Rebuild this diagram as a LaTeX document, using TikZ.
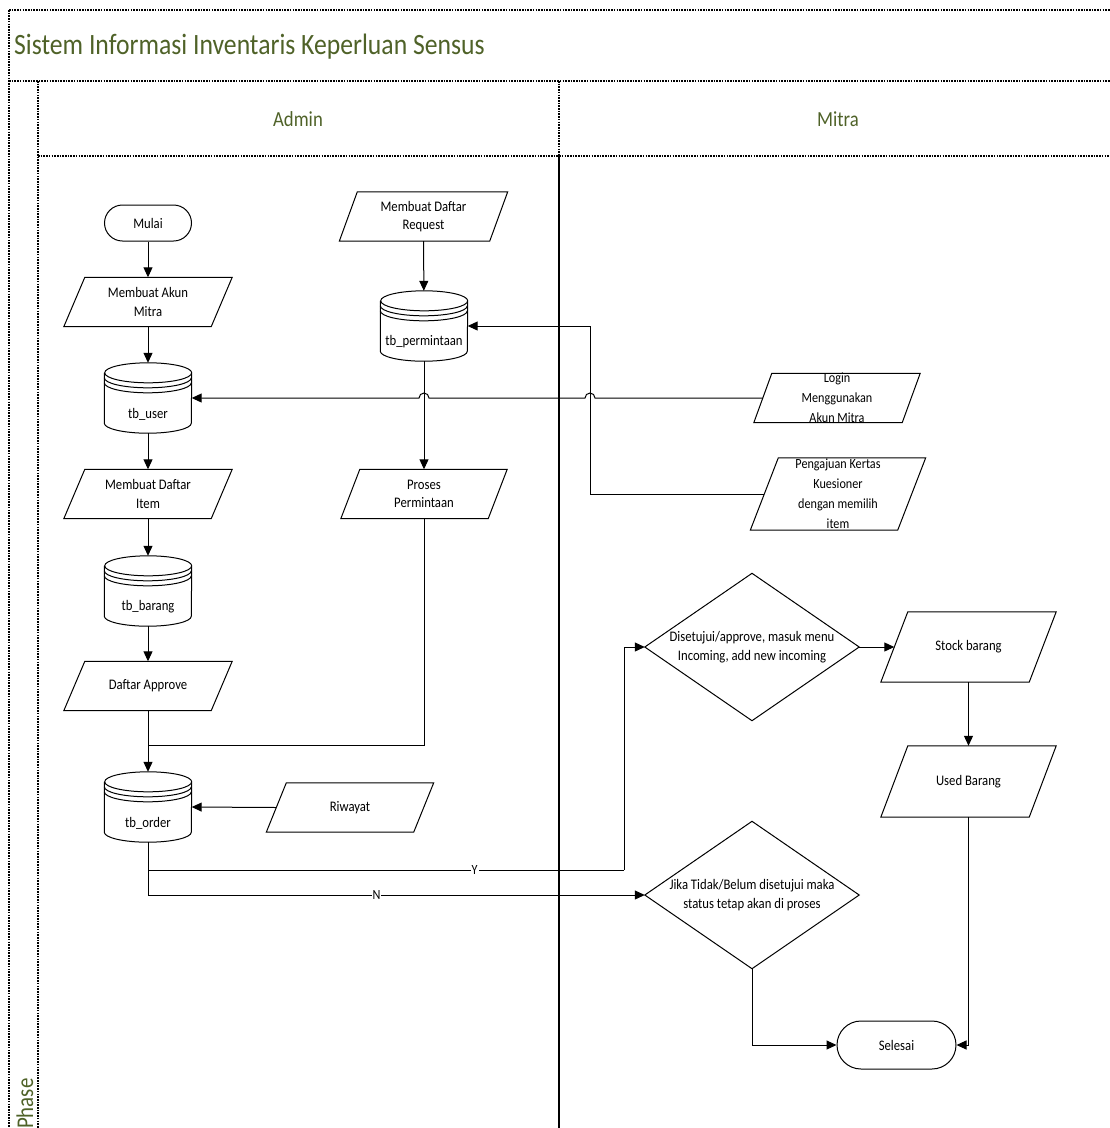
\documentclass[tikz,border=0pt]{standalone}
\usepackage{fontspec}
\setmainfont{Carlito}[FakeStretch=0.87]
\usetikzlibrary{arrows.meta,calc}
\definecolor{lanegreen}{RGB}{79,98,40}

% parallelogram outline around a rectangular node, #2 = half of the slant
\newcommand\pgramdraw[2]{%
  \draw[shapeline] ([xshift=#2]#1.north west) -- ([xshift=#2]#1.north east)
    -- ([xshift=-#2]#1.south east) -- ([xshift=-#2]#1.south west) -- cycle;}
% database cylinder with two extra rings under the lid
\newcommand\dbdraw[1]{%
  \draw[shapeline] ([yshift=-10pt]#1.north west) -- ([yshift=10pt]#1.south west)
    arc[start angle=180,end angle=360,x radius=43.5pt,y radius=10pt]
    -- ([yshift=-10pt]#1.north east)
    arc[start angle=0,end angle=360,x radius=43.5pt,y radius=10pt];
  \draw[shapeline] ([yshift=-15pt]#1.north west)
    arc[start angle=180,end angle=360,x radius=43.5pt,y radius=10pt];
  \draw[shapeline] ([yshift=-20pt]#1.north west)
    arc[start angle=180,end angle=360,x radius=43.5pt,y radius=10pt];}
% decision diamond inside a rectangular node
\newcommand\diadraw[1]{%
  \draw[shapeline] (#1.west) -- (#1.north) -- (#1.east) -- (#1.south) -- cycle;}

\tikzset{
  frameline/.style={line width=1.4pt, dash pattern=on 1.6pt off 1.1pt},
  shapeline/.style={line width=1pt, line join=miter},
  conn/.style={line width=1pt},
  arr/.style={conn, -{Triangle[length=10pt,width=9pt]}},
  txt/.style={font=\fontsize{14.6}{18.5}\selectfont, align=center},
  smalltxt/.style={font=\fontsize{14}{20}\selectfont, align=center},
  io/.style={txt, inner sep=0pt, minimum width=147pt, minimum height=49pt},
  db/.style={inner sep=0pt, minimum width=87pt, minimum height=70pt},
  dblabel/.style={label={[txt, yshift=-16pt]center:#1}},
  dia/.style={txt, inner sep=0pt, minimum width=214pt, minimum height=147pt},
  term/.style={txt, draw, shapeline, inner sep=0pt},
  yn/.style={font=\fontsize{14}{16}\selectfont, fill=white, inner sep=1pt},
  lanetxt/.style={text=lanegreen, font=\fontsize{21.5}{24}\selectfont},
}

\begin{document}
\begin{tikzpicture}[x=1pt, y=-1pt]
\useasboundingbox (0,0) rectangle (1110,1128);

% pool and lane frame
\draw[frameline] (9,10) -- (1112,10);
\draw[frameline] (9,10) -- (9,1130);
\draw[frameline] (9,81) -- (1112,81);
\draw[frameline] (38,81) -- (38,1130);
\draw[frameline] (38,156) -- (1112,156);
\draw[frameline] (559,81) -- (559,156);
\draw[line width=1.4pt] (559,156) -- (559,1130);

\node[text=lanegreen, font=\fontsize{29.5}{33}\selectfont, anchor=west, inner sep=0pt] (title) at (14,47) {Sistem Informasi Inventaris Keperluan Sensus};
\node[lanetxt] (admin) at (298,119) {Admin};
\node[lanetxt] (mitra) at (838,119) {Mitra};
\node[lanetxt, font=\fontsize{24}{26}\selectfont, rotate=90, anchor=west, inner sep=0pt] (phase) at (25,1129) {Phase};

% Admin lane
\node[term, minimum width=87pt, minimum height=36pt, rounded corners=18pt] (mulai) at (148,223) {Mulai};
\node[io] (akun) at (148,302) {Membuat Akun\\Mitra};
\pgramdraw{akun}{10.5pt}
\node[db, dblabel={tb\_user}] (tbu) at (148,398) {};
\dbdraw{tbu}
\node[io] (item) at (148,494) {Membuat Daftar\\Item};
\pgramdraw{item}{10.5pt}
\node[db, dblabel={tb\_barang}] (tbb) at (148,591) {};
\dbdraw{tbb}
\node[io] (appr) at (148,686) {Daftar Approve};
\pgramdraw{appr}{10.5pt}
\node[db, dblabel={tb\_order}] (tbo) at (148,807) {};
\dbdraw{tbo}
\node[io] (riw) at (350,807.5) {Riwayat};
\pgramdraw{riw}{10pt}

\node[io, minimum width=150pt] (req) at (423.5,216.5) {Membuat Daftar\\Request};
\pgramdraw{req}{9pt}
\node[db, dblabel={tb\_permintaan}] (tbp) at (424,326) {};
\dbdraw{tbp}
\node[io] (pros) at (424,494) {Proses\\Permintaan};
\pgramdraw{pros}{9.5pt}

% Mitra lane
\node[io, minimum width=148pt, label={[smalltxt]center:Login\\Menggunakan\\Akun Mitra}] (login) at (837,398) {};
\pgramdraw{login}{9pt}
\node[io, minimum width=147pt, minimum height=72pt, label={[smalltxt]center:Pengajuan Kertas\\Kuesioner\\dengan memilih\\item}] (peng) at (838,494) {};
\pgramdraw{peng}{14pt}

\node[dia] (d1) at (752,647) {Disetujui/approve, masuk menu\\Incoming, add new incoming};
\diadraw{d1}
\node[dia] (d2) at (752,895) {Jika Tidak/Belum disetujui maka\\status tetap akan di proses};
\diadraw{d2}

\node[io, minimum width=148pt, minimum height=70pt] (stock) at (968.5,647) {Stock barang};
\pgramdraw{stock}{13.5pt}
\node[io, minimum width=148pt, minimum height=71pt] (used) at (968.5,781.5) {Used Barang};
\pgramdraw{used}{13.5pt}

\node[term, minimum width=119pt, minimum height=48pt, rounded corners=24pt] (sel) at (896.5,1045) {Selesai};

% connectors
\coordinate (kx) at (590,0);
\coordinate (merge) at (148,745);
\coordinate (yturn) at (624,870);

\draw[arr] (mulai) -- (akun);
\draw[arr] (akun) -- (tbu);
\draw[arr] (tbu) -- (item);
\draw[arr] (item) -- (tbb);
\draw[arr] (tbb) -- (appr);
\draw[arr] (appr) -- (tbo);
\draw[arr] (riw.west) -- (tbo.east);
\draw[arr] (req) -- (tbp);
\draw[arr] (tbp.south) -- (pros.north);
\draw[conn] (pros.south) |- (merge);
\draw[arr] (peng.west) -| (kx |- tbp.east) -- (tbp.east);
\draw[arr] (login.west) -- ($(kx |- tbu.east)+(5,0)$)
  arc[start angle=0,end angle=180,radius=5pt]
  -- ($(tbp.south |- tbu.east)+(5,0)$)
  arc[start angle=0,end angle=180,radius=5pt]
  -- (tbu.east);
\draw[conn] (tbo.south) |- node[yn, pos=0.843] {Y} (yturn);
\draw[arr] (yturn) |- (d1.west);
\draw[arr] (tbo.south) |- node[yn, pos=0.73] {N} (d2.west);
\draw[arr] (d1.east) -- (stock.west);
\draw[arr] (stock.south) -- (used.north);
\draw[arr] (used.south) |- (sel.east);
\draw[arr] (d2.south) |- (sel.west);
\end{tikzpicture}
\end{document}
